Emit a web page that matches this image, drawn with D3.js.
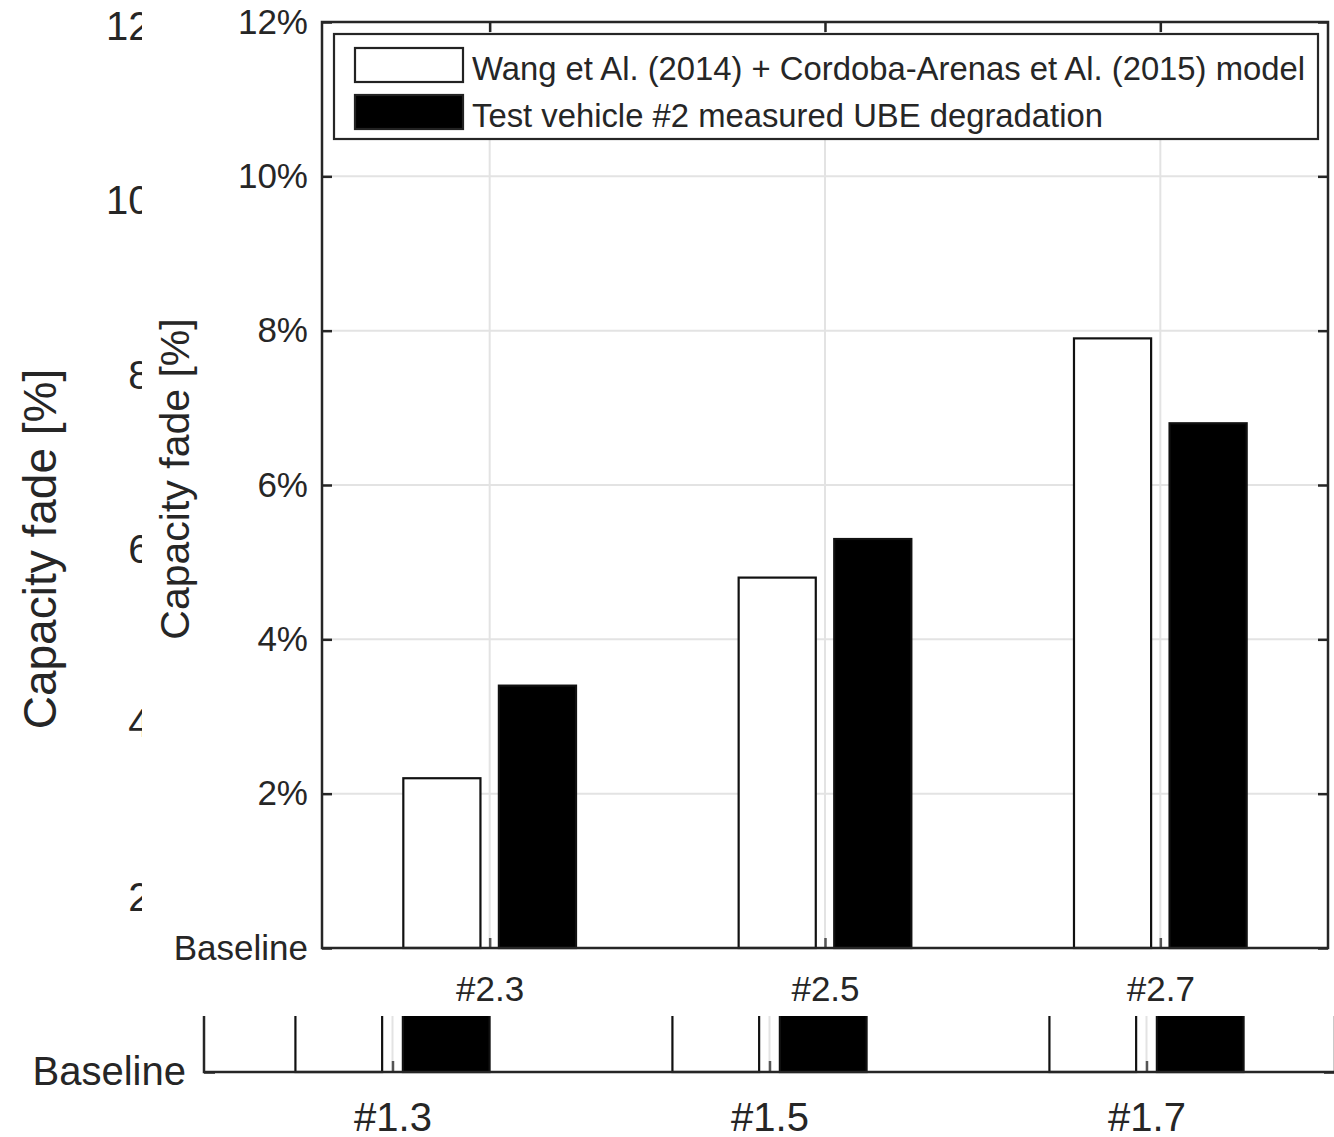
<!DOCTYPE html>
<html>
<head>
<meta charset="utf-8">
<script src="https://cdn.jsdelivr.net/npm/d3@7"></script>
<style>
  html, body { margin: 0; padding: 0; background: #fff; }
  svg { display: block; }
  text { font-family: "Liberation Sans", Arial, Helvetica, sans-serif; fill: #262626; }
</style>
</head>
<body>
<svg id="chart" width="1334" height="1137"></svg>
<script>
// ---------- DATA ----------
// Front chart (test vehicle #2)
const frontCategories = ["#2.3", "#2.5", "#2.7"];
const frontModel = [2.2, 4.8, 7.9];
const frontMeasured = [3.4, 5.3, 6.8];
// Back chart (test vehicle #1) - mostly hidden behind the front chart
const backCategories = ["#1.3", "#1.5", "#1.7"];
const backModel = [2.0, 4.5, 7.3];
const backMeasured = [2.6, 4.9, 6.2];
// Axis ticks
const yTickValues = [0, 2, 4, 6, 8, 10, 12];
const yTickLabels = ["Baseline", "2%", "4%", "6%", "8%", "10%", "12%"];
const yAxisTitle = "Capacity fade [%]";
const legendLabels = [
  "Wang et Al. (2014) + Cordoba-Arenas et Al. (2015) model",
  "Test vehicle #2 measured UBE degradation"
];

// ---------- DRAW ----------
const svg = d3.select("#chart");

function drawChart(g, cfg) {
  const x = d3.scaleLinear().domain([0.5, 3.5]).range([cfg.left, cfg.right]);
  const y = d3.scaleLinear().domain([0, 12]).range([cfg.bottom, cfg.top]);
  const idx = [1, 2, 3];

  // grid
  g.append("g").selectAll("line.hg").data(yTickValues.slice(1)).join("line")
    .attr("x1", cfg.left).attr("x2", cfg.right)
    .attr("y1", d => y(d)).attr("y2", d => y(d))
    .attr("stroke", "#e3e3e3").attr("stroke-width", 2);
  g.append("g").selectAll("line.vg").data(idx).join("line")
    .attr("x1", d => x(d)).attr("x2", d => x(d))
    .attr("y1", cfg.top).attr("y2", cfg.bottom)
    .attr("stroke", "#e3e3e3").attr("stroke-width", 2);

  // bars
  const off = 0.1425, bw = 0.23;
  const series = [
    {vals: cfg.model, fill: "#ffffff", dx: -off},
    {vals: cfg.measured, fill: "#000000", dx: off}
  ];
  series.forEach(s => {
    g.append("g").selectAll("rect").data(s.vals).join("rect")
      .attr("x", (d, i) => x(i + 1 + s.dx - bw / 2))
      .attr("width", x(1 + bw) - x(1))
      .attr("y", d => y(d))
      .attr("height", d => y(0) - y(d))
      .attr("fill", s.fill)
      .attr("stroke", "#111")
      .attr("stroke-width", 2.2);
  });

  // y axis (left)
  const yAxis = d3.axisLeft(y).tickValues(yTickValues)
    .tickFormat((d, i) => yTickLabels[i])
    .tickSizeInner(-cfg.tick).tickSizeOuter(0).tickPadding(cfg.pad);
  const ya = g.append("g").attr("transform", `translate(${cfg.left},0)`).call(yAxis);
  ya.select(".domain").remove();
  ya.selectAll("line").attr("stroke", "#262626").attr("stroke-width", 2.5);
  ya.selectAll("text").attr("font-size", cfg.fs).attr("fill", "#262626")
    .attr("font-family", "Liberation Sans, Arial, sans-serif");

  // right ticks
  const yAxisR = d3.axisRight(y).tickValues(yTickValues).tickFormat("")
    .tickSizeInner(-cfg.tick).tickSizeOuter(0);
  const yr = g.append("g").attr("transform", `translate(${cfg.right},0)`).call(yAxisR);
  yr.select(".domain").remove();
  yr.selectAll("line").attr("stroke", "#262626").attr("stroke-width", 2.5);

  // x axis (bottom)
  const xAxis = d3.axisBottom(x).tickValues(idx)
    .tickFormat((d, i) => cfg.categories[i])
    .tickSizeInner(-cfg.tick).tickSizeOuter(0).tickPadding(cfg.xpad);
  const xa = g.append("g").attr("transform", `translate(0,${cfg.bottom})`).call(xAxis);
  xa.select(".domain").remove();
  xa.selectAll("line").attr("stroke", "#555").attr("stroke-width", 2.5);
  xa.selectAll("text").attr("font-size", cfg.fs).attr("fill", "#262626")
    .attr("font-family", "Liberation Sans, Arial, sans-serif");

  // top ticks
  const xAxisT = d3.axisTop(x).tickValues(idx).tickFormat("")
    .tickSizeInner(-cfg.tick).tickSizeOuter(0);
  const xt = g.append("g").attr("transform", `translate(0,${cfg.top})`).call(xAxisT);
  xt.select(".domain").remove();
  xt.selectAll("line").attr("stroke", "#262626").attr("stroke-width", 2.5);

  // box
  g.append("rect")
    .attr("x", cfg.left).attr("y", cfg.top)
    .attr("width", cfg.right - cfg.left).attr("height", cfg.bottom - cfg.top)
    .attr("fill", "none").attr("stroke", "#262626").attr("stroke-width", 2.5);

  // y title
  g.append("text")
    .attr("transform", `translate(${cfg.titleX},${cfg.titleY}) rotate(-90)`)
    .attr("text-anchor", "middle").attr("dominant-baseline", "central")
    .attr("font-size", cfg.titleFs)
    .text(yAxisTitle);

  return {x, y};
}

// ----- back chart -----
const back = svg.append("g");
drawChart(back, {
  left: 204, right: 1335, top: 27, bottom: 1072,
  categories: backCategories, model: backModel, measured: backMeasured,
  tick: 11, pad: 18, xpad: 31, fs: 40, titleFs: 46, titleX: 40, titleY: 549
});

// ----- front chart (on top) -----
svg.append("rect").attr("x", 142).attr("y", 0).attr("width", 1334 - 142).attr("height", 1016)
  .attr("fill", "#ffffff");
const front = svg.append("g");
drawChart(front, {
  left: 322, right: 1328, top: 22, bottom: 948,
  categories: frontCategories, model: frontModel, measured: frontMeasured,
  tick: 10, pad: 14, xpad: 28, fs: 35, titleFs: 41, titleX: 175, titleY: 479
});

// legend
const lg = front.append("g");
lg.append("rect").attr("x", 334).attr("y", 34).attr("width", 984).attr("height", 105)
  .attr("fill", "#fff").attr("stroke", "#262626").attr("stroke-width", 2.2);
const swFill = ["#ffffff", "#000000"];
legendLabels.forEach((lab, i) => {
  const cy = 65 + i * 47;
  lg.append("rect").attr("x", 355).attr("y", cy - 17).attr("width", 108).attr("height", 34)
    .attr("fill", swFill[i]).attr("stroke", "#222").attr("stroke-width", 2.2);
  lg.append("text").attr("x", 472).attr("y", cy + 3)
    .attr("dominant-baseline", "central")
    .attr("font-size", 34)
    .attr("textLength", i === 0 ? 833 : 631)
    .attr("lengthAdjust", "spacingAndGlyphs")
    .attr("fill", "#111")
    .text(lab);
});
</script>
</body>
</html>
